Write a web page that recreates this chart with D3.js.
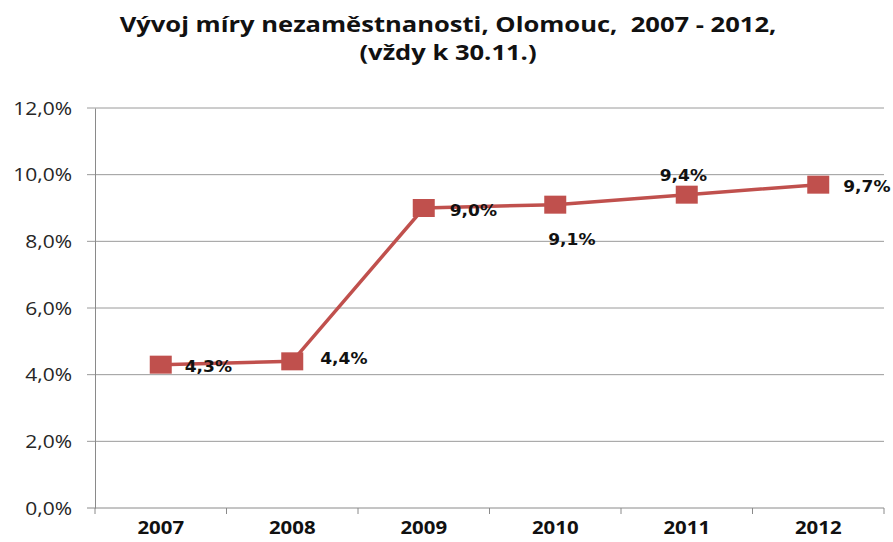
<!DOCTYPE html>
<html><head><meta charset="utf-8">
<script src="https://cdn.jsdelivr.net/npm/d3@7"></script>
<style>body{margin:0;background:#fff}</style>
</head><body>
<svg id="c" width="893" height="542"></svg>
<script>
const years = ["2007","2008","2009","2010","2011","2012"];
const rates = [4.3, 4.4, 9.0, 9.1, 9.4, 9.7];
const labels = ["4,3%","4,4%","9,0%","9,1%","9,4%","9,7%"];
const yTicks = [0,2,4,6,8,10,12];
const titleLines = ["Vývoj míry nezaměstnanosti, Olomouc,  2007 - 2012,","(vždy k 30.11.)"];
// label placement offsets (dx, dy) relative to point
const labelPos = [[24,7],[28,3],[26,8],[-7,40],[-27,-14],[25,7]];

const SX = 1.2; // horizontal stretch of the reference's text
const SXL = 1.1;
const svg = d3.select("#c");
const L = 95, R = 884, T = 108, B = 508;
const x = d3.scaleBand().domain(years).range([L, R]);
const y = d3.scaleLinear().domain([0, 12]).range([B, T]);

svg.append("g").selectAll("text").data(titleLines).join("text")
  .attr("transform", (d,i) => `translate(448,${32 + i*28}) scale(${SX},1)`)
  .attr("text-anchor","middle").style("white-space","pre")
  .attr("font-family","'Open Sans', sans-serif").attr("font-weight","bold")
  .attr("font-size", 21.3).attr("fill","#111").text(d => d);

// gridlines
svg.append("g").selectAll("line").data(yTicks).join("line")
  .attr("x1", L-8).attr("x2", R).attr("y1", d => y(d)).attr("y2", d => y(d))
  .attr("stroke", d => d===0 ? "#8a8a8a" : "#9a9a9a").attr("stroke-width", 1);

// y axis
const yAxis = d3.axisLeft(y).tickValues(yTicks).tickSize(0).tickPadding(23)
  .tickFormat(d => d3.format(".1f")(d).replace(".", ",") + "%");
const gy = svg.append("g").attr("transform", `translate(${L},0)`).call(yAxis);
gy.select(".domain").attr("stroke","#8a8a8a");
gy.selectAll("text").attr("font-family","'Open Sans', sans-serif").attr("font-size",17.5)
  .attr("fill","#262626").attr("dy","0.35em")
  .attr("x", -23/SX).attr("transform", `scale(${SX},1)`);

// x axis
const gx = svg.append("g").attr("transform", `translate(0,${B})`)
  .call(d3.axisBottom(x).tickSize(0).tickPadding(14));
gx.select(".domain").remove();
gx.selectAll("text").attr("font-family","'Open Sans', sans-serif").attr("font-weight","bold")
  .attr("font-size",17).attr("fill","#111").attr("transform", `scale(${SX},1)`);
// ticks at band boundaries
const bounds = years.map(d => x(d)).concat([R]);
svg.append("g").selectAll("line").data(bounds).join("line")
  .attr("x1", d => d).attr("x2", d => d).attr("y1", B).attr("y2", B+6)
  .attr("stroke","#8a8a8a");

const cx = d => x(d) + x.bandwidth()/2;
const line = d3.line().x((d,i) => cx(years[i])).y(d => y(d));
svg.append("path").datum(rates).attr("d", line)
  .attr("fill","none").attr("stroke","#C0504D").attr("stroke-width",3.5);

svg.append("g").selectAll("rect").data(rates).join("rect")
  .attr("x", (d,i) => cx(years[i]) - 11).attr("y", d => y(d) - 9)
  .attr("width", 22).attr("height", 18).attr("fill","#C0504D");

svg.append("g").selectAll("text").data(rates).join("text")
  .attr("transform", (d,i) => `translate(${cx(years[i]) + labelPos[i][0]},${y(d) + labelPos[i][1]}) scale(${SXL},1)`)
  .attr("font-family","'DejaVu Sans', sans-serif").attr("font-weight","bold")
  .attr("font-size", 15.5).attr("fill","#111")
  .text((d,i) => labels[i]);
</script>
</body></html>
